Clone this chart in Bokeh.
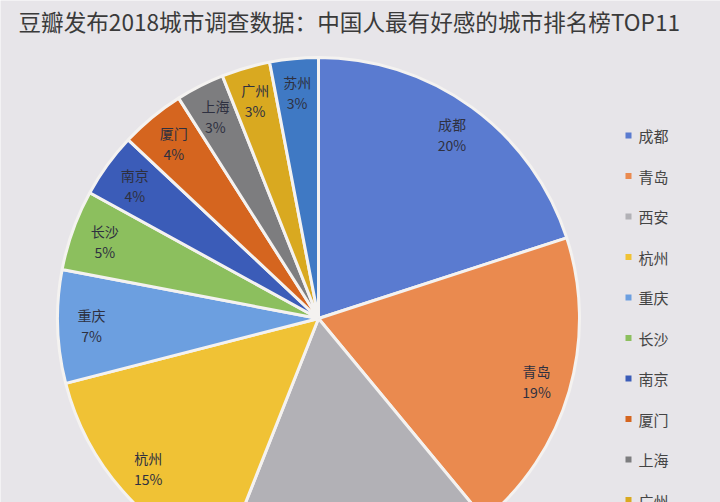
import math
from bokeh.plotting import figure
from bokeh.models import Range1d, ColumnDataSource
from bokeh.core.properties import value
from bokeh.embed import file_html
from bokeh.resources import INLINE

cities = ["成都", "青岛", "西安", "杭州", "重庆", "长沙", "南京", "厦门", "上海", "广州", "苏州"]
shares = [20, 19, 17, 15, 7, 5, 4, 4, 3, 3, 3]
colors = ["#5a7bd0", "#ea8a4f", "#b2b1b6", "#f0c235", "#6c9fe0", "#8cbf5e",
          "#3b5cb8", "#d5651f", "#7d7d7f", "#d9a920", "#3f79c4"]
title_text = "豆瓣发布2018城市调查数据：中国人最有好感的城市排名榜TOP11"

FONT = "Noto Sans CJK SC"
W, H = 720, 502  # reference pixels; data y = H - pixel y

p = figure(width=W, height=H, output_backend="svg", toolbar_location=None,
           x_range=Range1d(0, W), y_range=Range1d(0, H), min_border=0)
p.axis.visible = False
p.grid.visible = False
p.outline_line_color = None
p.background_fill_color = "#e7e5e9"
p.border_fill_color = "#e7e5e9"

cx, cy, R = 318, H - 318, 261
total = sum(shares)
starts, ends, lx, ly, labels = [], [], [], [], []
cum = 0.0
for c, s in zip(cities, shares):
    a0 = cum / total * 2 * math.pi
    cum += s
    a1 = cum / total * 2 * math.pi
    starts.append(math.pi / 2 - a1)
    ends.append(math.pi / 2 - a0)
    mid = (a0 + a1) / 2
    lx.append(cx + 0.87 * R * math.sin(mid))
    ly.append(cy + 0.87 * R * math.cos(mid))
    labels.append(f"{c}\n{s}%")

src = ColumnDataSource(dict(start=starts, end=ends, color=colors,
                            lx=lx, ly=ly, label=labels))
p.wedge(x=cx, y=cy, radius=R, start_angle="start", end_angle="end",
        fill_color="color", line_color="#f4f2f0", line_width=3, source=src)
p.text(x="lx", y="ly", text="label", source=src, text_align="center",
       text_baseline="middle", text_font=value(FONT), text_font_size="14px",
       text_color="#2e3040", text_line_height=1.05)

# title
p.text(x=[18], y=[H - 21], text=[title_text], text_font=value(FONT),
       text_font_size="22.6px", text_color="#3a3a3a", text_baseline="middle")

# legend
ys = [H - (135 + 40.5 * i) for i in range(len(cities))]
p.scatter(x=[628] * len(cities), y=ys, marker="square", size=6,
          fill_color=colors, line_color=None)
p.text(x=[638] * len(cities), y=ys, text=cities, text_font=value(FONT),
       text_font_size="15px", text_color="#444444", text_baseline="middle")

open("out.html", "w").write(file_html(p, INLINE))
